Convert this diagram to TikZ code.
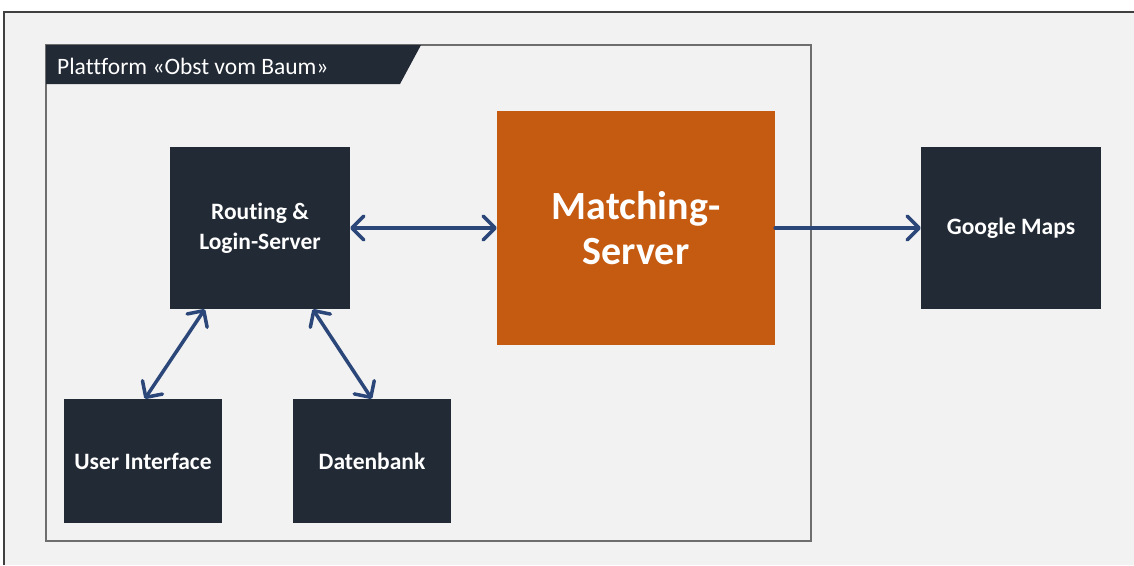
\documentclass[tikz,border=0pt]{standalone}
\usepackage{fontspec}
\setmainfont{Carlito}[Ligatures=NoCommon]
\usetikzlibrary{arrows.meta}
\definecolor{bg}{HTML}{F2F2F2}
\definecolor{navy}{HTML}{222A35}
\definecolor{orng}{HTML}{C55A11}
\definecolor{arr}{HTML}{2B4679}
\definecolor{framec}{HTML}{6E6E6E}
\definecolor{outer}{HTML}{404040}
\begin{document}
\begin{tikzpicture}[x=1pt,y=-1pt,
  box/.style={fill=navy, text=white, font=\fontsize{23.5}{30}\selectfont\bfseries, align=center, inner sep=0pt, anchor=center},
  link/.style={draw=arr, line width=3.5pt, line cap=round, {Straight Barb[length=12pt,width=24pt,round]}-{Straight Barb[length=12pt,width=24pt,round]}},
  onelink/.style={draw=arr, line width=3.5pt, line cap=round, -{Straight Barb[length=12pt,width=24pt,round]}}]
\useasboundingbox (0,0) rectangle (1134,565);
\fill[white] (0,0) rectangle (1134,565);
\fill[bg] (5,12) rectangle (1134,565);
\draw[outer, line width=2pt] (4,565) -- (4,12) -- (1134,12);
% platform frame
\draw[framec, line width=1.2pt] (46,45) rectangle (811,541);
\fill[navy] (46,45) -- (421,45) -- (400,84) -- (46,84) -- cycle;
\node[anchor=base west, text=white, inner sep=0pt, font=\fontsize{23.5}{28}\selectfont] (title) at (57,74) {Plattform «Obst vom Baum»};
% nodes
\node[box, minimum width=180pt, minimum height=162pt] (r) at (260,228) {Routing \&\\Login-Server};
\node[box, fill=orng, minimum width=278pt, minimum height=234pt, font=\fontsize{40}{45}\selectfont\bfseries] (m) at (636,228) {Matching-\\Server};
\node[box, minimum width=180pt, minimum height=162pt] (g) at (1011,228) {Google Maps};
\node[box, minimum width=158pt, minimum height=124pt] (ui) at (143,461) {User Interface};
\node[box, minimum width=158pt, minimum height=124pt] (db) at (372,461) {Datenbank};
% connectors
\draw[link] (r.east) -- (m.west);
\draw[onelink] (m.east) -- (g.west);
\draw[link] ([xshift=35pt]r.south west) -- ([xshift=81pt]ui.north west);
\draw[link] ([xshift=143pt]r.south west) -- ([xshift=79pt]db.north west);
\end{tikzpicture}
\end{document}
